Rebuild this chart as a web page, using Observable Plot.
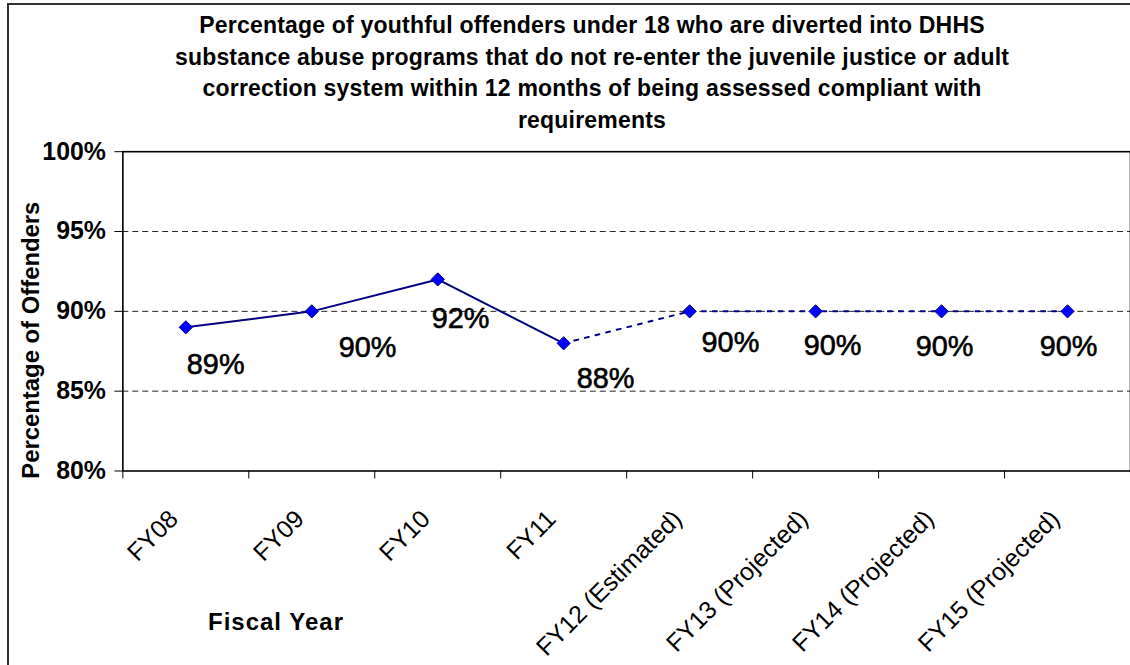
<!DOCTYPE html>
<html>
<head>
<meta charset="utf-8">
<script src="https://cdn.jsdelivr.net/npm/d3@7"></script>
<script src="https://cdn.jsdelivr.net/npm/@observablehq/plot@0.6"></script>
<style>
  html, body { margin: 0; padding: 0; background: #fff; overflow: hidden; width: 1130px; height: 665px; }
  body { position: relative; font-family: "Liberation Sans", Arial, sans-serif; color: #000; }
  #outer { position: absolute; left: 7px; top: 3px; width: 1300px; height: 900px; border-left: 2px solid #333; border-top: 2px solid #333; }
  #chart { position: absolute; left: 0; top: 0; }
  #title { position: absolute; left: 0; top: 10px; width: 1184px; text-align: center; font-weight: bold; font-size: 23px; letter-spacing: 0.2px; line-height: 31.5px; }
  #xlabel { position: absolute; left: 176px; top: 610px; width: 200px; text-align: center; font-weight: bold; font-size: 24px; line-height: 1; letter-spacing: 1px; }
</style>
</head>
<body>
<div id="outer"></div>
<div id="chart"></div>
<div id="title">Percentage of youthful offenders under 18 who are diverted into DHHS<br>substance abuse programs that do not re-enter the juvenile justice or adult<br>correction system within 12 months of being assessed compliant with<br>requirements</div>
<div id="xlabel">Fiscal Year</div>
<script>
const categories = ["FY08", "FY09", "FY10", "FY11", "FY12 (Estimated)", "FY13 (Projected)", "FY14 (Projected)", "FY15 (Projected)"];
const values = [89, 90, 92, 88, 90, 90, 90, 90];
const status = ["Actual", "Actual", "Actual", "Actual", "Estimated", "Projected", "Projected", "Projected"];
const yTicks = [80, 85, 90, 95, 100];
const gridValues = [85, 90, 95];
const yLabel = "Percentage of Offenders";
// label nudges (pixels) as placed in the original chart
const labelDx = [30, 56, 23, 42, 41, 17, 3, 1];
const labelDy = [38, 37, 40, 36, 32, 35, 36, 36];

const rows = categories.map((c, i) => ({category: c, pos: i + 0.5, value: values[i], status: status[i]}));
const lastActual = status.lastIndexOf("Actual");
const solid = rows.slice(0, lastActual + 1);
const dotted = rows.slice(lastActual);

const font = '"Liberation Sans", Arial, sans-serif';

const chart = Plot.plot({
  width: 1136,
  height: 665,
  marginTop: 152,
  marginBottom: 192,
  marginLeft: 123,
  marginRight: 0,
  style: {fontFamily: font, background: "transparent", overflow: "visible", color: "#000"},
  x: {type: "linear", domain: [0, categories.length]},
  y: {domain: [80, 100]},
  marks: [
    Plot.ruleY(gridValues, {stroke: "#222", strokeWidth: 1, strokeDasharray: "6,4"}),
    Plot.frame({stroke: "#000", strokeWidth: 1.6}),
    Plot.axisY(yTicks, {tickSize: 8, tickPadding: 9, tickFormat: d => d + "%", fontSize: 25, fontWeight: "bold", label: null}),
    Plot.axisX(d3.range(0, categories.length + 1), {tickSize: 8, tickFormat: () => "", label: null}),
    Plot.axisX(rows.map(d => d.pos), {tickSize: 0, tickRotate: -45, tickFormat: p => categories[Math.round(p - 0.5)], fontSize: 25, label: null, tickPadding: 44, dx: -12}),
    Plot.text([yLabel], {text: d => d, frameAnchor: "left", textAnchor: "middle", rotate: -90, dx: -92, dy: 29, fontSize: 24, fontWeight: "bold"}),
    Plot.line(solid, {x: "pos", y: "value", stroke: "#000080", strokeWidth: 2}),
    Plot.line(dotted, {x: "pos", y: "value", stroke: "#000080", strokeWidth: 2, strokeDasharray: "4,7"}),
    Plot.dot(rows, {x: "pos", y: "value", symbol: "diamond2", r: 6, fill: "#0000FF", stroke: "#000080", strokeWidth: 1}),
    ...rows.map((d, i) => Plot.text([d], {x: "pos", y: "value", text: r => r.value + "%", dx: labelDx[i], dy: labelDy[i], fontSize: 29, fill: "#000", stroke: "#000", strokeWidth: 0.6, paintOrder: "fill"}))
  ]
});
document.getElementById("chart").appendChild(chart);
</script>
</body>
</html>
